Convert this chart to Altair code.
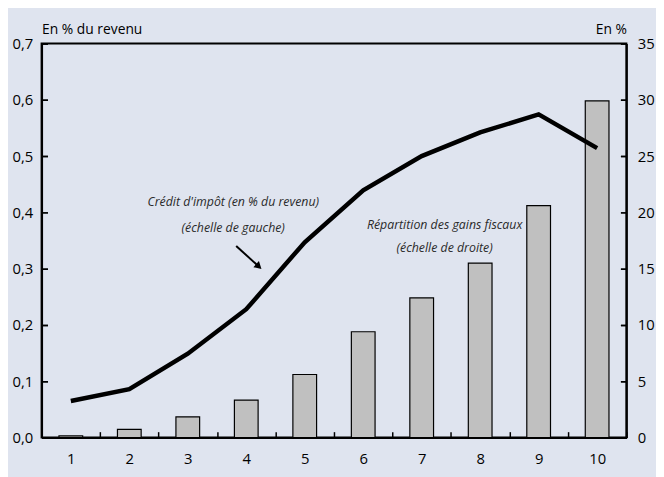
import altair as alt
import pandas as pd

deciles = ["1", "2", "3", "4", "5", "6", "7", "8", "9", "10"]
credit = [0.065, 0.086, 0.149, 0.228, 0.347, 0.439, 0.500, 0.542, 0.574, 0.514]
gains = [0.15, 0.73, 1.84, 3.33, 5.6, 9.4, 12.4, 15.5, 20.6, 29.9]

df = pd.DataFrame({"decile": deciles, "credit": credit, "gains": gains})

W, H = 592, 399
FONT = "Open Sans"
BG = "#dfe4ef"
TK = 6

x = alt.X("decile:O", sort=deciles, title=None,
          scale=alt.Scale(paddingInner=0, paddingOuter=0),
          axis=alt.Axis(labelAngle=0, tickBand="extent", ticks=False,
                        grid=True, gridColor="black", gridWidth=1.5,
                        gridDash=[TK, H - TK], gridDashOffset=TK, gridOpacity=1,
                        labelPadding=14, labelFontSize=15, labelFont=FONT,
                        labelColor="black", domainColor="black", domainWidth=2))

bars = alt.Chart(df).mark_bar(color="#c0c0c0", stroke="black", strokeWidth=1.2,
                              width=24).encode(
    x=x,
    y=alt.Y("gains:Q", scale=alt.Scale(domain=[0, 35], nice=False),
            axis=alt.Axis(orient="right", values=[0, 5, 10, 15, 20, 25, 30, 35],
                          ticks=False, labelPadding=11,
                          grid=True, gridColor="black", gridWidth=1.5,
                          gridDash=[TK, W - 2 * TK, TK], gridOpacity=1,
                          labelFontSize=15, labelFont=FONT, labelColor="black",
                          domainColor="black", domainWidth=2,
                          title="En %", titleAngle=0, titleAlign="right",
                          titleBaseline="bottom", titleX=0, titleY=-7,
                          titleFont=FONT, titleFontSize=14, titleFontWeight="normal",
                          titleColor="black"))
)

line = alt.Chart(df).mark_line(color="black", strokeWidth=4.5).encode(
    x=x,
    y=alt.Y("credit:Q", scale=alt.Scale(domain=[0, 0.7], nice=False),
            axis=alt.Axis(orient="left", values=[0, 0.1, 0.2, 0.3, 0.4, 0.5, 0.6, 0.7],
                          labelExpr="replace(format(datum.value, '.1f'), '.', ',')",
                          ticks=False, labelPadding=9,
                          grid=True, gridColor="black", gridWidth=1.5,
                          gridDash=[TK, W - 2 * TK, TK], gridOpacity=1,
                          labelFontSize=15, labelFont=FONT, labelColor="black",
                          domainColor="black", domainWidth=2,
                          title="En % du revenu", titleAngle=0, titleAlign="left",
                          titleBaseline="bottom", titleX=0, titleY=-7,
                          titleFont=FONT, titleFontSize=14, titleFontWeight="normal",
                          titleColor="black"))
)

ann_df = pd.DataFrame({
    "t": ["Crédit d'impôt (en % du revenu)", "(échelle de gauche)",
          "Répartition des gains fiscaux", "(échelle de droite)"],
    "px": [194, 194, 408, 408],
    "py": [161, 187, 184, 207],
})
ann = alt.Chart(ann_df).mark_text(font=FONT, fontSize=12.5, fontStyle="italic",
                                  color="#2a2a2a", align="center").encode(
    x=alt.X("px:Q", scale=None), y=alt.Y("py:Q", scale=None), text="t:N")

arrow_df = pd.DataFrame({"x1": [197], "y1": [205], "x2": [219], "y2": [225]})
arrow_line = alt.Chart(arrow_df).mark_rule(color="black", strokeWidth=2).encode(
    x=alt.X("x1:Q", scale=None), y=alt.Y("y1:Q", scale=None),
    x2="x2:Q", y2="y2:Q")
arrow_head = alt.Chart(arrow_df).mark_point(shape="triangle", filled=True,
                                            color="black", size=70, opacity=1,
                                            angle=132).encode(
    x=alt.X("x2:Q", scale=None), y=alt.Y("y2:Q", scale=None))

chart = alt.layer(bars, line, ann, arrow_line, arrow_head).resolve_scale(
    y="independent"
).properties(
    width=W, height=H, background=BG,
    autosize=alt.AutoSizeParams(type="none"),
    padding={"left": 34, "top": 33, "right": 30, "bottom": 37},
).configure_view(stroke="black", strokeWidth=2)

chart.save("out.html", embed_options={"renderer": "svg", "actions": False})
